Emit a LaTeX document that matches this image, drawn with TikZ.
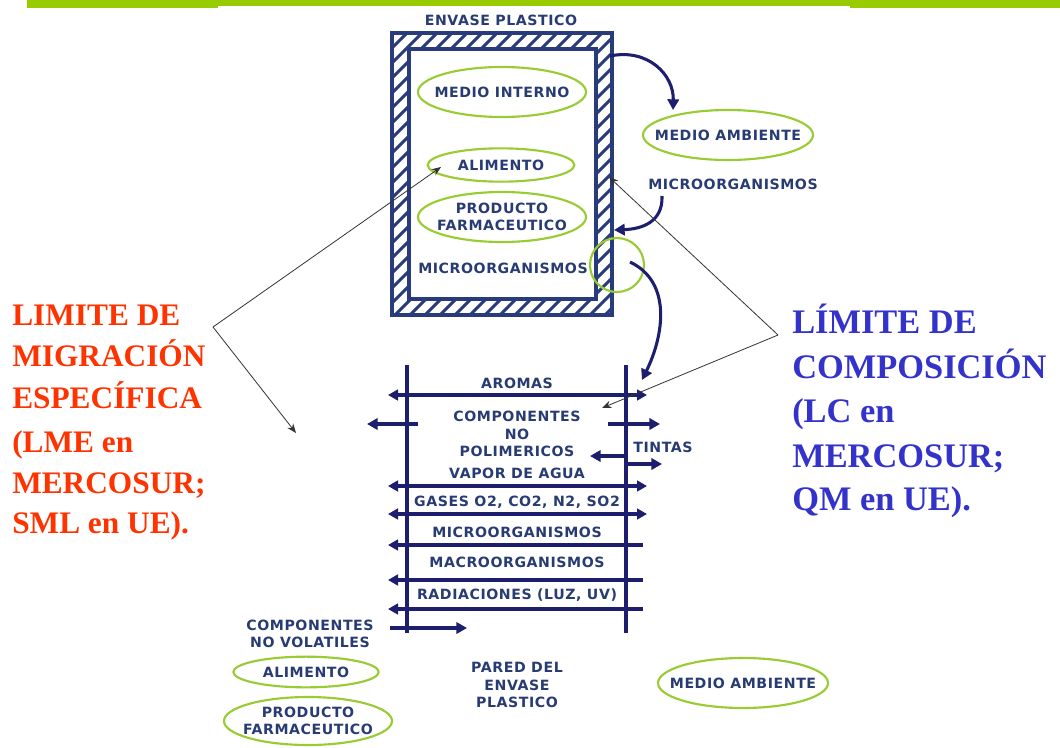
\documentclass[tikz,border=0pt]{standalone}
\usepackage{fontspec}
\setmainfont{Liberation Serif}
\newfontfamily\labfont{DejaVu Sans}[LetterSpace=4]
\usetikzlibrary{arrows.meta,shapes.geometric}
\definecolor{navy}{RGB}{30,30,110}
\definecolor{boxblue}{RGB}{40,60,124}
\definecolor{txt}{RGB}{40,60,115}
\definecolor{lgreen}{RGB}{153,204,51}
\definecolor{bargreen}{RGB}{153,204,0}
\definecolor{limred}{RGB}{255,51,0}
\definecolor{limblue}{RGB}{51,51,204}
\begin{document}
\begin{tikzpicture}[x=0.75pt,y=-0.75pt,
 lbl/.style={font=\labfont\bfseries\fontsize{10.6}{13}\selectfont, text=txt, inner sep=0pt, align=center},
 ell/.style={draw=lgreen, line width=1.6pt, ellipse, inner sep=0pt},
 flow/.style={draw=navy, line width=2.3pt, -{Triangle[length=8pt,width=8.5pt]}},
 both/.style={draw=navy, line width=2.3pt, {Triangle[length=7.5pt,width=8pt]}-{Triangle[length=7.5pt,width=8pt]}},
 back/.style={draw=navy, line width=2.3pt, {Triangle[length=7.5pt,width=8pt]}-},
 wallline/.style={draw=navy, line width=2.3pt},
 frame/.style={draw=boxblue, line width=2.4pt},
 pointer/.style={draw=black!80, line width=0.6pt, -{Stealth[length=7pt,width=5.5pt]}},
 redtxt/.style={font=\bfseries\fontsize{23.5}{28}\selectfont, text=limred, inner sep=0pt, anchor=base west},
 bluetxt/.style={font=\bfseries\fontsize{25.8}{30}\selectfont, text=limblue, inner sep=0pt, anchor=base west}]
\useasboundingbox (0,0) rectangle (1060,747);
\fill[white] (0,0) rectangle (1060,747);
% top bar
\fill[bargreen] (27,0) rectangle (1060,6);
\fill[bargreen] (27,6) rectangle (218,8);
\fill[bargreen] (850,6) rectangle (1060,8);
% title
\node[lbl] (title) at (501,20) {ENVASE PLASTICO};
% hatched wall of the package
\begin{scope}[even odd rule]
\clip (392,33) rectangle (612,315) (409,49) rectangle (596,299);
\foreach \i in {90,105,...,630} \draw[boxblue, line width=2.3pt] (\i,320) -- ++(290,-290);
\end{scope}
\draw[frame] (392,33) rectangle (612,315);
\draw[frame] (409,49) rectangle (596,299);
% inner elements
\node[ell, minimum width=126pt, minimum height=37.5pt] (medint) at (502,92) {};
\node[lbl] at (medint) {MEDIO INTERNO};
\node[ell, minimum width=110pt, minimum height=25pt] (alim1) at (501,165) {};
\node[lbl] at (alim1) {ALIMENTO};
\node[ell, minimum width=126pt, minimum height=37.5pt] (prod1) at (502,217) {};
\node[lbl] at (prod1) {PRODUCTO\\FARMACEUTICO};
\node[lbl] (micro1) at (503,268) {MICROORGANISMOS};
\node[draw=lgreen, line width=1.6pt, circle, minimum size=40.5pt, inner sep=0pt] (zoomc) at (617,265) {};
% right side
\node[ell, minimum width=127.5pt, minimum height=37.5pt] (amb1) at (728,135) {};
\node[lbl] at (amb1) {MEDIO AMBIENTE};
\node[lbl] (micro3) at (733,184) {MICROORGANISMOS};
\coordinate (boxout) at (610,56);
\coordinate (ambin) at (673,110);
\coordinate (microsrc) at (662,196);
\coordinate (boxin) at (614,230);
\coordinate (circout) at (630,262);
\coordinate (wallin) at (642,380);
\draw[flow] (boxout) .. controls (648,48) and (674,75) .. (ambin);
\draw[flow] (microsrc) .. controls (663,222) and (642,229) .. (boxin);
\draw[flow] (circout) .. controls (672,282) and (664,335) .. (wallin);
% lower wall section
\coordinate (wl1) at (407,365); \coordinate (wl2) at (407,633);
\coordinate (wr1) at (626,365); \coordinate (wr2) at (626,633);
\draw[wallline] (wl1) -- (wl2);
\draw[wallline] (wr1) -- (wr2);
\node[lbl] (aromas) at (517,383) {AROMAS};
\node[lbl] (compnp) at (517,434) {COMPONENTES\\NO\\POLIMERICOS};
\node[lbl] (tintas) at (663,447) {TINTAS};
\node[lbl] (vapor) at (517,473) {VAPOR DE AGUA};
\node[lbl] (gases) at (517,502) {GASES O2, CO2, N2, SO2};
\node[lbl] (micro2) at (517,532) {MICROORGANISMOS};
\node[lbl] (macro) at (517,562) {MACROORGANISMOS};
\node[lbl] (rad) at (517,595) {RADIACIONES (LUZ, UV)};
\coordinate (a1) at (388,395); \coordinate (a2) at (647,395);
\coordinate (c1) at (418,424); \coordinate (c2) at (367,424);
\coordinate (c3) at (608,424); \coordinate (c4) at (660,424);
\coordinate (t1) at (626,456); \coordinate (t2) at (590,456);
\coordinate (t3) at (626,464); \coordinate (t4) at (662,464);
\coordinate (v1) at (388,486); \coordinate (v2) at (647,486);
\coordinate (g1) at (388,514); \coordinate (g2) at (647,514);
\coordinate (m1) at (388,545); \coordinate (m2) at (643,545);
\coordinate (n1) at (388,580); \coordinate (n2) at (643,580);
\coordinate (r1) at (388,609); \coordinate (r2) at (643,609);
\coordinate (b1) at (390,628); \coordinate (b2) at (467,628);
\draw[both] (a1) -- (a2);
\draw[flow] (c1) -- (c2);
\draw[flow] (c3) -- (c4);
\draw[flow] (t1) -- (t2);
\draw[flow] (t3) -- (t4);
\draw[both] (v1) -- (v2);
\draw[both] (g1) -- (g2);
\draw[back] (m1) -- (m2);
\draw[back] (n1) -- (n2);
\draw[back] (r1) -- (r2);
\draw[flow] (b1) -- (b2);
% bottom labels
\node[lbl] (cnv) at (310,634) {COMPONENTES\\NO VOLATILES};
\node[ell, minimum width=109pt, minimum height=23pt] (alim2) at (306,672) {};
\node[lbl] at (alim2) {ALIMENTO};
\node[ell, minimum width=126pt, minimum height=36pt] (prod2) at (308,721) {};
\node[lbl] at (prod2) {PRODUCTO\\FARMACEUTICO};
\node[lbl] (pared) at (517,685) {PARED DEL\\ENVASE\\PLASTICO};
\node[ell, minimum width=127.5pt, minimum height=37.5pt] (amb2) at (743,683) {};
\node[lbl] at (amb2) {MEDIO AMBIENTE};
% red label
\node[redtxt] (r1t) at (12,325) {LIMITE DE};
\node[redtxt] (r2t) at (12,366) {MIGRACIÓN};
\node[redtxt] (r3t) at (12,408) {ESPECÍFICA};
\node[redtxt] (r4t) at (12,452) {(LME en};
\node[redtxt] (r5t) at (12,493) {MERCOSUR;};
\node[redtxt] (r6t) at (12,533) {SML en UE).};
% blue label
\node[bluetxt] (b1t) at (792,333) {LÍMITE DE};
\node[bluetxt] (b2t) at (792,378) {COMPOSICIÓN};
\node[bluetxt] (b3t) at (792,422) {(LC en};
\node[bluetxt] (b4t) at (792,467) {MERCOSUR;};
\node[bluetxt] (b5t) at (792,510) {QM en UE).};
% pointers
\coordinate (vl) at (213,327);
\coordinate (alimtip) at (441,167);
\coordinate (lowtip) at (296,433);
\coordinate (vr) at (778,335);
\coordinate (walltip) at (609,177);
\coordinate (comptip) at (602,408);
\draw[pointer] (vl) -- (alimtip);
\draw[pointer] (vl) -- (lowtip);
\draw[pointer] (vr) -- (walltip);
\draw[pointer] (vr) -- (comptip);
\end{tikzpicture}
\end{document}
